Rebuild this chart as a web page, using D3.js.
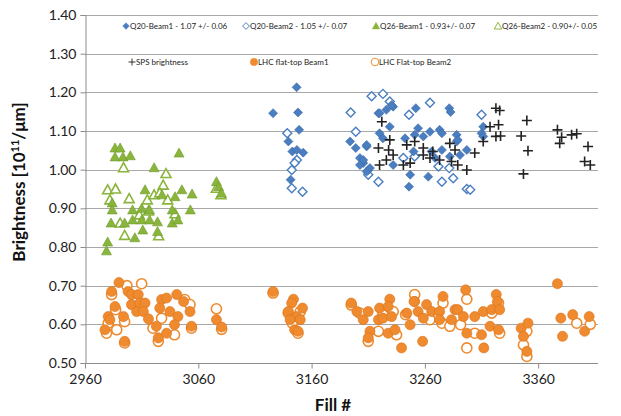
<!DOCTYPE html>
<html>
<head>
<meta charset="utf-8">
<script src="https://cdn.jsdelivr.net/npm/d3@7"></script>
<style>
  body { margin: 0; background: #fff; }
  svg { font-family: Lato, "Open Sans", sans-serif; }
</style>
</head>
<body>
<div class="render"></div>
<script>
"use strict";

var width = 621;
var height = 416;

// [fill, brightness]
var q20Beam1 = [[3126,1.146],[3146.8,1.213],[3148,1.148],[3149,1.103],[3139.5,1.073],[3143,1.047],[3152.6,1.044],[3147,1.051],[3141.5,0.974],
  [3194,1.073],[3199,1.056],[3208.6,1.06],[3202.7,1.03],[3205.6,1.017],[3202.7,1.012],[3210,0.999],[3219,1.146],
  [3252,1.159],[3281.5,1.159],[3282.7,1.149],[3220,1.146],[3226,1.155],[3232,1.163],[3230.6,1.167],[3229,1.111],[3220,1.094],
  [3254,1.107],[3264.5,1.098],[3273,1.103],[3275,1.094],[3288,1.09],[3288,1.073],[3223,1.081],[3242.5,1.081],[3251,1.09],
  [3258.6,1.086],[3208.6,1.064],[3250,1.047],[3266,1.047],[3275,1.051],[3297,1.051],[3291,1.038],[3205.6,1.025],[3211.5,1.004],
  [3208.6,0.995],[3232,1.012],[3247,0.987],[3263,0.982],[3246,0.956],[3269,1.03],[3282,1.034],[3289,1.077],
  [3311.5,1.111],[3310,1.094],[3311.5,1.086]];
var q20Beam2 = [[3213,1.19],[3194.5,1.148],[3199,1.098],[3138.5,1.094],[3147,1.025],[3145,1.017],[3142.5,0.999],[3142.5,0.952],
  [3152,0.943],[3210,0.987],[3223,1.196],[3229,1.176],[3264.5,1.173],[3246,1.142],[3241,1.03],[3251,1.034],
  [3272,1.008],[3281.5,1.004],[3285,0.978],[3275,0.969],[3219,0.969],[3297,0.95],[3310,1.142],[3300,0.948]];
var q26Beam1 = [[2986.5,1.056],[2991,1.056],[2986.5,1.033],[2993.5,1.033],[3000,1.036],[3043,1.043],[3021,1.005],[3013,0.948],
  [3045.5,0.948],[3054.5,0.937],[3028,0.935],[3039.5,0.93],[2984,0.914],[2984,0.896],[3002,0.896],[3010,0.90],[3017,0.896],
  [3037,0.896],[3053,0.896],[3002,0.87],[3010,0.87],[3017,0.87],[3024,0.865],[3037,0.862],[3042,0.87],[3011,0.844],
  [2983,0.862],[2995,0.862],[3004,0.824],[3024,0.84],[2980,0.813],[2979,0.79],[3076,0.969],[3078,0.956],[3080.5,0.939]];
var q26Beam2 = [[2994,1.005],[3031.5,0.99],[3029,0.96],[2980,0.948],[2987,0.95],[2999,0.925],[3015,0.922],[3021,0.935],
  [3026,0.94],[3033,0.922],[2982,0.922],[2991,0.862],[2995,0.83],[3025,0.829],[3016,0.893],[3008,0.883],[3039.5,0.886],
  [3076,0.952],[3080,0.935]];
var spsBrightness = [[3222,1.124],[3229,1.077],[3219,1.056],[3228,1.051],[3232,1.038],[3226,1.025],[3220,1.012],[3241,1.012],
  [3247,1.017],[3244,1.064],[3251,1.073],[3258.6,1.056],[3258.6,1.038],[3264.5,1.03],[3273,1.025],[3282,1.068],[3286.6,1.051],
  [3283.5,1.021],[3289,1.012],[3297,0.999],[3304,1.043],[3267,1.047],[3311.5,1.073],
  [3322.7,1.159],[3326,1.153],[3317.5,1.111],[3325,1.116],[3322.7,1.086],[3326.8,1.087],[3350,1.127],[3345,1.087],
  [3351,1.049],[3347,0.989],[3377,1.103],[3380.7,1.084],[3379,1.068],[3389.5,1.09],[3394,1.093],[3401,1.021],[3404,1.06],[3406,1.012]];
var lhcBeam1 = [[2990,0.708],[2983.5,0.685],[2998,0.685],[3001,0.677],[3007,0.677],[3001,0.651],[3008.5,0.655],[3013,0.655],
  [2986.5,0.646],[3005.6,0.633],[3011.5,0.633],[3016,0.614],[2980.5,0.62],[2982,0.612],[2994,0.62],[2977.6,0.586],
  [3027.6,0.664],[3032,0.668],[3041,0.677],[3047,0.659],[3026,0.642],[3035,0.633],[3042,0.62],[3052.7,0.633],[3023,0.595],
  [3039,0.599],[3054,0.595],[2995,0.556],[3024.7,0.565],[3032,0.577],[3076,0.612],[3080.6,0.593],
  [3126,0.685],[3144,0.665],[3142.4,0.655],[3139.4,0.633],[3152,0.642],[3147,0.62],[3141,0.612],[3150,0.612],[3145,0.586],[3148,0.582],
  [3195,0.655],[3200,0.633],[3205.6,0.612],[3210,0.633],[3220,0.642],[3229,0.665],[3227.6,0.646],[3219,0.612],[3223,0.616],
  [3230.6,0.62],[3211.5,0.582],[3210,0.565],[3227.6,0.577],[3233.6,0.586],[3239.4,0.539],[3244,0.629],[3247,0.599],[3251,0.659],[3254,0.633],
  [3250.4,0.659],[3261.5,0.651],[3266,0.633],[3258.6,0.616],[3273,0.633],[3276,0.672],[3258,0.556],[3273,0.612],[3283.5,0.612],
  [3286.6,0.638],[3289,0.638],[3296,0.689],[3294,0.62],[3304,0.62],[3297,0.577],[3312,0.539],[3311.5,0.633],[3319,0.638],
  [3323,0.677],[3324,0.659],[3326,0.638],[3310,0.573],[3317.5,0.595],[3325,0.586],[3345,0.59],[3351,0.603],[3347,0.569],
  [3350,0.53],[3377,0.705],[3380,0.616],[3381.5,0.569],[3390.5,0.625],[3401,0.582],[3405,0.62]];
var lhcBeam2 = [[2997,0.70],[3010,0.705],[2983.5,0.677],[3004,0.672],[3048,0.664],[3052.7,0.651],[2987,0.638],[2980.5,0.603],
  [2988,0.586],[2995,0.607],[3027.6,0.616],[3020,0.59],[3039,0.573],[3024.7,0.556],[3054,0.59],[2979,0.577],[2995,0.552],
  [3076,0.64],[3080.6,0.587],[3126,0.681],[3139.4,0.629],[3150,0.633],[3143,0.603],[3148,0.577],[3195,0.65],
  [3210,0.556],[3219,0.582],[3223,0.625],[3232,0.633],[3235,0.573],[3243,0.625],[3251,0.677],[3202.7,0.629],
  [3276,0.655],[3275,0.603],[3282,0.595],[3297,0.665],[3297,0.539],[3304,0.577],[3319,0.629],[3325,0.655],[3326,0.577],
  [3350,0.582],[3347,0.547],[3350,0.517],[3394,0.603],[3264.5,0.612],[3291.5,0.599],[3406,0.60]];

var xTicks = [2960, 3060, 3160, 3260, 3360];
var yTicks = [0.5, 0.6, 0.7, 0.8, 0.9, 1.0, 1.1, 1.2, 1.3, 1.4];

var blue = '#4a7ec0', green = '#8ab53c', orange = '#ef8a2e';

var m = { left: 85, right: 598, top: 15, bottom: 363 };
var x = d3.scaleLinear().domain([2960, 3412.8]).range([m.left, m.right]);
var y = d3.scaleLinear().domain([0.5, 1.4]).range([m.bottom, m.top]);

var svg = d3.select('.render').append('svg').attr('width', width).attr('height', height);

// gridlines
svg.append('g').selectAll('line').data(yTicks.slice(1)).enter().append('line')
   .attr('x1', m.left).attr('x2', m.right)
   .attr('y1', function (d) { return Math.round(y(d)) + 0.5; })
   .attr('y2', function (d) { return Math.round(y(d)) + 0.5; })
   .attr('stroke', '#a8a8a8').attr('stroke-width', 1);

var yAxis = svg.append('g').attr('transform', 'translate(' + (m.left + 0.5) + ',0)')
   .call(d3.axisLeft(y).tickValues(yTicks).tickFormat(d3.format('.2f')).tickSize(5).tickPadding(4));
var xAxis = svg.append('g').attr('transform', 'translate(0,' + (m.bottom + 0.5) + ')')
   .call(d3.axisBottom(x).tickValues(xTicks).tickFormat(d3.format('d')).tickSize(5).tickPadding(6));
[yAxis, xAxis].forEach(function (a) {
   a.select('.domain').attr('stroke', '#8c8c8c');
   a.selectAll('.tick line').attr('stroke', '#8c8c8c');
   a.selectAll('text').attr('font-size', 14).attr('fill', '#222').attr('font-family', 'Lato, sans-serif');
});
xAxis.select('.domain').attr('d', 'M' + m.left + ',0H' + m.right);

// axis titles
svg.append('text').attr('transform', 'translate(25,' + 182 + ') rotate(-90)')
   .attr('text-anchor', 'middle').attr('font-size', 17).attr('font-weight', 'bold').attr('fill', '#111')
   .html('Brightness [10<tspan baseline-shift="super" font-size="11">11</tspan>/\u03bcm]');
svg.append('text').attr('x', 333).attr('y', 411).attr('text-anchor', 'middle')
   .attr('font-size', 17).attr('font-weight', 'bold').attr('fill', '#111').text('Fill #');

var diamond = 'M0,-4.5L4.5,0L0,4.5L-4.5,0Z';
var triangle = 'M0,-5L5,4L-5,4Z';
var circle = d3.symbol().type(d3.symbolCircle).size(80)();
var plus = 'M-5,0H5M0,-5V5';

function series(data, shape, fill, stroke, sw) {
   svg.append('g').selectAll('path').data(data).enter().append('path')
      .attr('d', shape)
      .attr('transform', function (d) { return 'translate(' + x(d[0]) + ',' + y(d[1]) + ')'; })
      .attr('fill', fill).attr('stroke', stroke).attr('stroke-width', sw);
}

series(q26Beam2, triangle, '#fff', green, 1.6);
series(q26Beam1, triangle, green, '#6f9a2c', 0.6);
series(q20Beam2, diamond, '#fff', blue, 1.4);
series(q20Beam1, diamond, blue, '#3b6aa8', 0.6);
series(spsBrightness, plus, 'none', '#222', 1.6);
series(lhcBeam2, circle, '#fff', orange, 1.6);
series(lhcBeam1, circle, orange, '#d9741c', 0.6);

// legend
var legend = [
   { label: 'Q20-Beam1 - 1.07 +/- 0.06', x: 126, y: 26, shape: diamond, fill: blue, stroke: blue, sw: 0.5, s: 0.75 },
   { label: 'Q20-Beam2 - 1.05 +/- 0.07', x: 246, y: 26, shape: diamond, fill: '#fff', stroke: blue, sw: 1.3, s: 0.75 },
   { label: 'Q26-Beam1 - 0.93+/- 0.07', x: 376, y: 26, shape: triangle, fill: green, stroke: green, sw: 0.5, s: 0.75 },
   { label: 'Q26-Beam2 - 0.90+/- 0.05', x: 498, y: 26, shape: triangle, fill: '#fff', stroke: green, sw: 1.3, s: 0.75 },
   { label: 'SPS brightness', x: 132, y: 62, shape: plus, fill: 'none', stroke: '#222', sw: 1.3, s: 0.7 },
   { label: 'LHC flat-top Beam1', x: 254, y: 62, shape: circle, fill: orange, stroke: orange, sw: 0.5, s: 0.75 },
   { label: 'LHC Flat-top Beam2', x: 375, y: 62, shape: circle, fill: '#fff', stroke: orange, sw: 1.3, s: 0.75 }
];
var lg = svg.append('g').selectAll('g').data(legend).enter().append('g')
   .attr('transform', function (d) { return 'translate(' + d.x + ',' + d.y + ')'; });
lg.append('path').attr('d', function (d) { return d.shape; })
   .attr('transform', function (d) { return 'scale(' + d.s + ')'; })
   .attr('fill', function (d) { return d.fill; }).attr('stroke', function (d) { return d.stroke; })
   .attr('stroke-width', function (d) { return d.sw; });
lg.append('text').attr('x', 4).attr('y', 3).attr('font-size', 8).attr('fill', '#222').text(function (d) { return d.label; });
</script>
</body>
</html>
